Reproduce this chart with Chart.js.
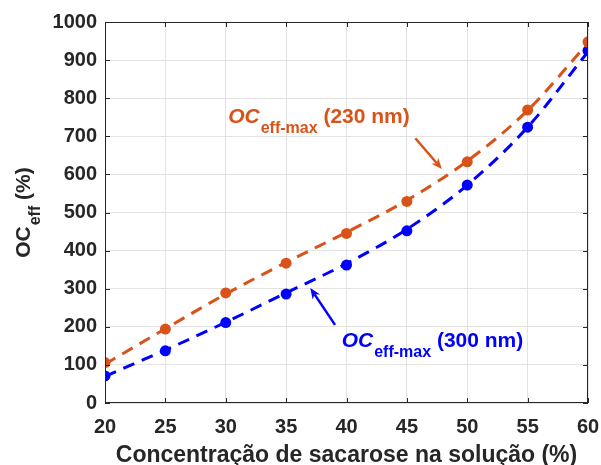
<!DOCTYPE html>
<html>
<head>
<meta charset="utf-8">
<script src="https://cdn.jsdelivr.net/npm/chart.js@4.4.1/dist/chart.umd.min.js"></script>
<style>
  html, body { margin: 0; padding: 0; background: #fff; }
  #wrap { width: 601px; height: 465px; }
</style>
</head>
<body>
<div id="wrap"><canvas id="chartOC" width="601" height="465"></canvas></div>
<script>
// ================= DADOS =================
const concentracao = [20, 25, 30, 35, 40, 45, 50, 55, 60];
const oc230 = [106, 194, 289, 367, 445, 529, 633, 769, 948];
const oc300 = [71, 137, 211, 286, 362, 452, 572, 724, 925];
// curvas de ajuste (tracejadas)
const ajuste230 = [102, 195, 286, 369, 448, 532, 635, 768, 945];
const ajuste300 = [70, 139, 212, 289, 366, 456, 572, 724, 922];
const xTicks = [20, 25, 30, 35, 40, 45, 50, 55, 60];
const yTicks = [0, 100, 200, 300, 400, 500, 600, 700, 800, 900, 1000];

const LARANJA = '#D95319';
const AZUL = '#0000FF';
const CINZA = '#262626';
const FONTE = '"Liberation Sans", Arial, sans-serif';

const pts = (xs, ys) => xs.map((x, i) => ({ x: x, y: ys[i] }));

// ================= MOLDURA (caixa + ticks internos) =================
const moldura = {
    id: 'moldura',
    afterDatasetsDraw(chart) {
        const { ctx, chartArea: a, scales: { x, y } } = chart;
        ctx.save();
        ctx.strokeStyle = CINZA;
        ctx.lineWidth = 1;
        ctx.strokeRect(a.left + 0.5, a.top + 0.5, a.right - a.left - 1, a.bottom - a.top - 1);
        const t = 5;
        ctx.beginPath();
        xTicks.forEach(v => {
            const px = Math.round(x.getPixelForValue(v)) + 0.5;
            ctx.moveTo(px, a.bottom); ctx.lineTo(px, a.bottom - t);
            ctx.moveTo(px, a.top); ctx.lineTo(px, a.top + t);
        });
        yTicks.forEach(v => {
            const py = Math.round(y.getPixelForValue(v)) + 0.5;
            ctx.moveTo(a.left, py); ctx.lineTo(a.left + t, py);
            ctx.moveTo(a.right, py); ctx.lineTo(a.right - t, py);
        });
        ctx.stroke();
        ctx.restore();
    }
};

// ================= TEXTO OC_eff =================
function desenhaOC(ctx, x0, y0, sub, resto, cor, tam, tamSub, desloc, italico) {
    ctx.fillStyle = cor;
    ctx.textBaseline = 'alphabetic';
    ctx.textAlign = 'left';
    ctx.font = (italico ? 'italic ' : '') + 'bold ' + tam + 'px ' + FONTE;
    ctx.fillText('OC', x0, y0);
    let x1 = x0 + ctx.measureText('OC').width + 1;
    ctx.font = 'bold ' + tamSub + 'px ' + FONTE;
    ctx.fillText(sub, x1, y0 + desloc);
    x1 += ctx.measureText(sub).width;
    ctx.font = 'bold ' + tam + 'px ' + FONTE;
    ctx.fillText(resto, x1, y0);
}

function seta(ctx, x1, y1, x2, y2, cor) {
    const ang = Math.atan2(y2 - y1, x2 - x1);
    const L = 11, W = 4.5;
    ctx.strokeStyle = cor;
    ctx.fillStyle = cor;
    ctx.lineWidth = 2.5;
    ctx.beginPath();
    ctx.moveTo(x1, y1);
    ctx.lineTo(x2 - Math.cos(ang) * L * 0.7, y2 - Math.sin(ang) * L * 0.7);
    ctx.stroke();
    ctx.beginPath();
    ctx.moveTo(x2, y2);
    ctx.lineTo(x2 - Math.cos(ang) * L - Math.sin(ang) * W, y2 - Math.sin(ang) * L + Math.cos(ang) * W);
    ctx.lineTo(x2 - Math.cos(ang) * L * 0.7, y2 - Math.sin(ang) * L * 0.7);
    ctx.lineTo(x2 - Math.cos(ang) * L + Math.sin(ang) * W, y2 - Math.sin(ang) * L - Math.cos(ang) * W);
    ctx.closePath();
    ctx.fill();
}

const anotacoes = {
    id: 'anotacoes',
    afterDraw(chart) {
        const { ctx, scales: { x, y } } = chart;
        ctx.save();
        // legenda da curva 230 nm
        desenhaOC(ctx, x.getPixelForValue(30.2), y.getPixelForValue(734),
            'eff-max', ' (230 nm)', LARANJA, 21, 16, 10, true);
        seta(ctx, x.getPixelForValue(45.7), y.getPixelForValue(695),
            x.getPixelForValue(47.9), y.getPixelForValue(614), LARANJA);
        // legenda da curva 300 nm
        desenhaOC(ctx, x.getPixelForValue(39.6), y.getPixelForValue(148),
            'eff-max', ' (300 nm)', AZUL, 21, 16, 10, true);
        seta(ctx, x.getPixelForValue(39.05), y.getPixelForValue(205),
            x.getPixelForValue(37), y.getPixelForValue(302), AZUL);

        // título do eixo y (rotacionado)
        const a = chart.chartArea;
        ctx.translate(30, (a.top + a.bottom) / 2);
        ctx.rotate(-Math.PI / 2);
        ctx.font = 'bold 21px ' + FONTE;
        const w1 = ctx.measureText('OC').width;
        ctx.font = 'bold 16px ' + FONTE;
        const w2 = ctx.measureText('eff').width;
        ctx.font = 'bold 21px ' + FONTE;
        const w3 = ctx.measureText(' (%)').width;
        const total = w1 + 1 + w2 + w3;
        desenhaOC(ctx, -total / 2, 0, 'eff', ' (%)', CINZA, 21, 16, 10, false);
        ctx.restore();
    }
};

// ================= GRÁFICO =================
const ctx = document.getElementById('chartOC');
new Chart(ctx, {
    type: 'line',
    data: {
        datasets: [
            {
                data: pts(concentracao, ajuste230),
                borderColor: LARANJA,
                borderWidth: 3,
                borderDash: [12, 8],
                pointRadius: 0,
                cubicInterpolationMode: 'monotone',
                fill: false
            },
            {
                data: pts(concentracao, ajuste300),
                borderColor: AZUL,
                borderWidth: 3,
                borderDash: [12, 8],
                pointRadius: 0,
                cubicInterpolationMode: 'monotone',
                fill: false
            },
            {
                data: pts(concentracao, oc230),
                showLine: false,
                pointRadius: 5.5,
                pointBackgroundColor: LARANJA,
                pointBorderColor: LARANJA,
                pointBorderWidth: 0
            },
            {
                data: pts(concentracao, oc300),
                showLine: false,
                pointRadius: 5.5,
                pointBackgroundColor: AZUL,
                pointBorderColor: AZUL,
                pointBorderWidth: 0
            }
        ]
    },
    options: {
        responsive: false,
        animation: false,
        events: [],
        layout: { padding: { left: 0, top: 22, right: 0, bottom: 0 } },
        plugins: {
            legend: { display: false },
            tooltip: { enabled: false }
        },
        scales: {
            x: {
                type: 'linear',
                min: 20,
                max: 60,
                afterBuildTicks: s => { s.ticks = xTicks.map(v => ({ value: v })); },
                afterFit: s => { s.height = 62; s.paddingRight = 13; s.paddingLeft = 0; },
                grid: { color: '#E3E3E3', lineWidth: 1, drawTicks: false },
                border: { display: false },
                ticks: {
                    padding: 12,
                    color: CINZA,
                    font: { family: FONTE, size: 20, weight: 'bold' },
                    callback: v => String(v)
                },
                title: {
                    display: true,
                    text: 'Concentração de sacarose na solução (%)',
                    color: CINZA,
                    font: { family: FONTE, size: 23, weight: 'bold' },
                    padding: { top: 0, bottom: -4 }
                }
            },
            y: {
                min: 0,
                max: 1000,
                afterBuildTicks: s => { s.ticks = yTicks.map(v => ({ value: v })); },
                afterFit: s => { s.width = 105; },
                grid: { color: '#E3E3E3', lineWidth: 1, drawTicks: false },
                border: { display: false },
                ticks: {
                    padding: 8,
                    color: CINZA,
                    font: { family: FONTE, size: 20, weight: 'bold' },
                    callback: v => String(v)
                }
            }
        }
    },
    plugins: [moldura, anotacoes]
});
</script>
</body>
</html>
